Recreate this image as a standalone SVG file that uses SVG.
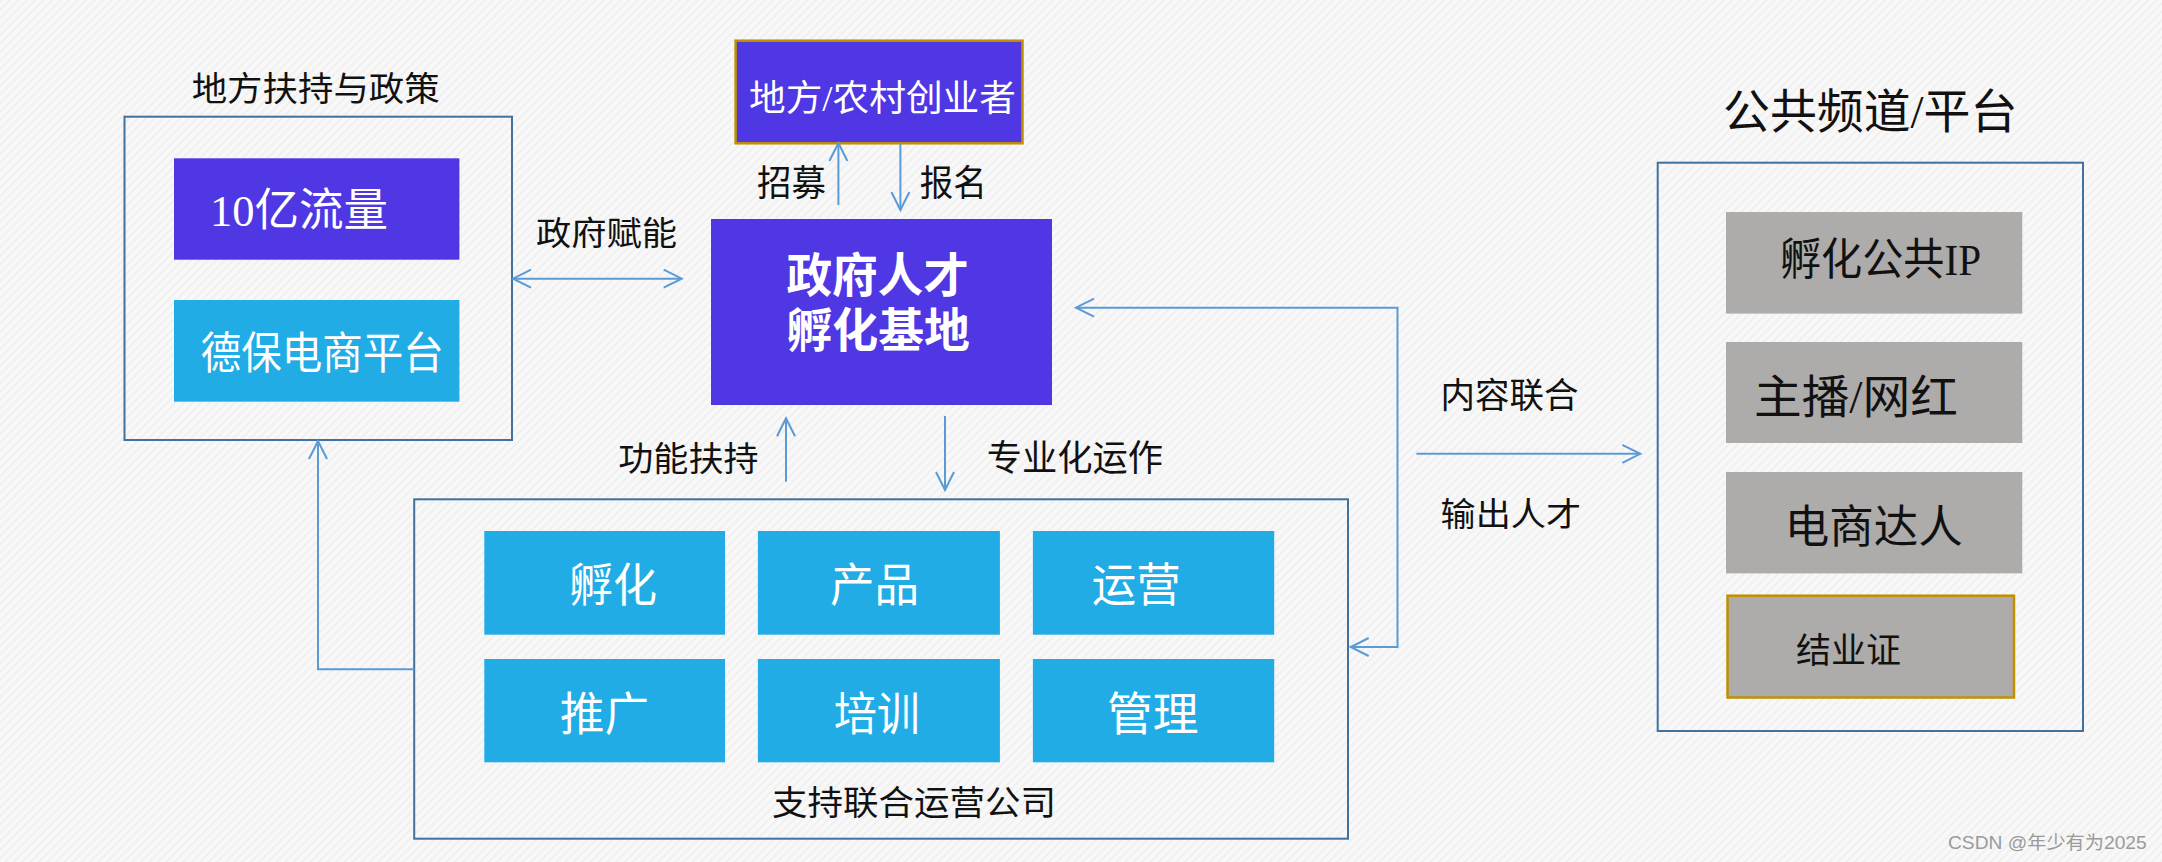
<svg xmlns="http://www.w3.org/2000/svg" width="2162" height="862" viewBox="0 0 2162 862">
<style>
.frame{fill:none;stroke:#41719C;stroke-width:2}
.purple{fill:#4F37E3}
.sky{fill:#21ACE6}
.gray{fill:#AEABAB}
.gold{stroke:#BF9000;stroke-width:2.5}
.t{font-family:"Liberation Serif","Noto Sans CJK SC",serif}
.w{fill:#FFFFFF}
.k{fill:#111111}
.conn{fill:none;stroke:#5B9BD5;stroke-width:2}
</style>
<defs>
<pattern id="bg" width="6" height="6" patternUnits="userSpaceOnUse" patternTransform="rotate(-45)">
<rect width="6" height="6" fill="#F8F8F8"/>
<rect width="6" height="2" fill="#F0F0F0"/>
</pattern>
<marker id="arr" markerUnits="userSpaceOnUse" markerWidth="24" markerHeight="24" viewBox="-20 -12 24 24" refX="0" refY="0" orient="auto-start-reverse">
<path d="M-18,-9 L0,0 L-18,9" fill="none" stroke="#5B9BD5" stroke-width="2"/>
</marker>
</defs>
<rect width="2162" height="862" fill="url(#bg)"/>

<g id="policy">
<text class="t k" x="191.7" y="101" font-size="34" textLength="248" lengthAdjust="spacingAndGlyphs">地方扶持与政策</text>
<rect class="frame" x="124.5" y="116.7" width="387.5" height="323.3"/>
</g>
<g id="traffic">
<rect class="purple" x="174" y="158.3" width="285.4" height="101.4"/>
<text class="t w" x="210" y="226" font-size="45" textLength="178" lengthAdjust="spacingAndGlyphs">10亿流量</text>
</g>
<g id="debao">
<rect class="sky" x="174" y="300" width="285.4" height="101.7"/>
<text class="t w" x="200.8" y="369" font-size="44" textLength="243" lengthAdjust="spacingAndGlyphs">德保电商平台</text>
</g>

<g id="founders">
<rect class="purple gold" x="735.6" y="40.7" width="286.9" height="102.6"/>
<text class="t w" x="749" y="111" font-size="36" textLength="267" lengthAdjust="spacingAndGlyphs">地方/农村创业者</text>
</g>

<g id="base">
<rect class="purple" x="711" y="219" width="341" height="186"/>
<text class="t w" x="786.5" y="292" font-size="47" font-weight="bold" textLength="182.5" lengthAdjust="spacingAndGlyphs">政府人才</text>
<text class="t w" x="786.5" y="347" font-size="47" font-weight="bold" textLength="183.5" lengthAdjust="spacingAndGlyphs">孵化基地</text>
</g>

<g id="company">
<rect class="frame" x="414.2" y="499.3" width="933.8" height="339.4"/>
<text class="t k" x="772" y="814.5" font-size="34" textLength="284" lengthAdjust="spacingAndGlyphs">支持联合运营公司</text>
</g>
<g id="cell-fuhua">
<rect class="sky" x="484.3" y="531" width="240.7" height="103.7"/>
<text class="t w" x="569" y="601" font-size="46" textLength="88" lengthAdjust="spacingAndGlyphs">孵化</text>
</g>
<g id="cell-chanpin">
<rect class="sky" x="757.9" y="531" width="242" height="103.7"/>
<text class="t w" x="830" y="601" font-size="46" textLength="89" lengthAdjust="spacingAndGlyphs">产品</text>
</g>
<g id="cell-yunying">
<rect class="sky" x="1032.9" y="531" width="241.3" height="103.7"/>
<text class="t w" x="1091.8" y="601" font-size="46" textLength="89" lengthAdjust="spacingAndGlyphs">运营</text>
</g>
<g id="cell-tuiguang">
<rect class="sky" x="484.3" y="659" width="240.7" height="103.3"/>
<text class="t w" x="560" y="730" font-size="46" textLength="89" lengthAdjust="spacingAndGlyphs">推广</text>
</g>
<g id="cell-peixun">
<rect class="sky" x="757.9" y="659" width="242" height="103.3"/>
<text class="t w" x="833.7" y="730" font-size="46" textLength="86.3" lengthAdjust="spacingAndGlyphs">培训</text>
</g>
<g id="cell-guanli">
<rect class="sky" x="1032.9" y="659" width="241.3" height="103.3"/>
<text class="t w" x="1107" y="730" font-size="46" textLength="91.5" lengthAdjust="spacingAndGlyphs">管理</text>
</g>

<g id="platform">
<text class="t k" x="1723" y="127.5" font-size="47" textLength="294.4" lengthAdjust="spacingAndGlyphs">公共频道/平台</text>
<rect class="frame" x="1657.7" y="162.7" width="425.3" height="568.3"/>
</g>
<g id="ip">
<rect class="gray" x="1726" y="212" width="296.3" height="101.6"/>
<text class="t k" x="1780" y="275" font-size="44" textLength="201" lengthAdjust="spacingAndGlyphs">孵化公共IP</text>
</g>
<g id="anchor">
<rect class="gray" x="1726" y="342" width="296.3" height="101"/>
<text class="t k" x="1754" y="413" font-size="46" textLength="204" lengthAdjust="spacingAndGlyphs">主播/网红</text>
</g>
<g id="expert">
<rect class="gray" x="1726" y="472" width="296.3" height="101.4"/>
<text class="t k" x="1784.7" y="543" font-size="45" textLength="178" lengthAdjust="spacingAndGlyphs">电商达人</text>
</g>
<g id="certificate">
<rect class="gray gold" x="1727.5" y="595.7" width="286.5" height="101.8"/>
<text class="t k" x="1796" y="662.5" font-size="35" textLength="105" lengthAdjust="spacingAndGlyphs">结业证</text>
</g>

<g id="connectors">
<path class="conn" d="M513,278.7 H681.7" marker-start="url(#arr)" marker-end="url(#arr)"/>
<path class="conn" d="M838.4,205 V143" marker-end="url(#arr)"/>
<path class="conn" d="M900.4,143.5 V210" marker-end="url(#arr)"/>
<path class="conn" d="M786,481.7 V418.3" marker-end="url(#arr)"/>
<path class="conn" d="M945,416 V490" marker-end="url(#arr)"/>
<path class="conn" d="M414.2,669.3 H318 V441" marker-end="url(#arr)"/>
<path class="conn" d="M1076,307.7 H1397.5 V647 H1350.7" marker-start="url(#arr)" marker-end="url(#arr)"/>
<path class="conn" d="M1416.4,453.8 H1640.3" marker-end="url(#arr)"/>
<text class="t k" x="536" y="244.5" font-size="33" textLength="141" lengthAdjust="spacingAndGlyphs">政府赋能</text>
<text class="t k" x="757" y="196" font-size="36" textLength="69" lengthAdjust="spacingAndGlyphs">招募</text>
<text class="t k" x="919.7" y="196" font-size="36" textLength="67" lengthAdjust="spacingAndGlyphs">报名</text>
<text class="t k" x="618.3" y="470.5" font-size="34" textLength="140.3" lengthAdjust="spacingAndGlyphs">功能扶持</text>
<text class="t k" x="986.7" y="471" font-size="36" textLength="176.3" lengthAdjust="spacingAndGlyphs">专业化运作</text>
<text class="t k" x="1440.6" y="408" font-size="35" textLength="138" lengthAdjust="spacingAndGlyphs">内容联合</text>
<text class="t k" x="1440.6" y="526" font-size="33" textLength="140.4" lengthAdjust="spacingAndGlyphs">输出人才</text>
</g>

<text x="1948" y="849" font-family="'Liberation Sans','Noto Sans CJK SC',sans-serif" font-size="18.5" fill="#9A9A9A" textLength="198.7" lengthAdjust="spacingAndGlyphs">CSDN @年少有为2025</text>
</svg>
